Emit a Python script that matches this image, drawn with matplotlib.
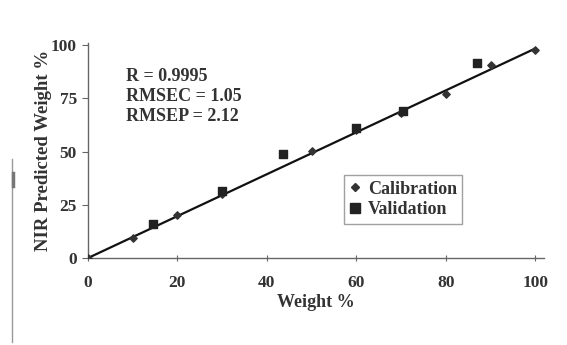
import matplotlib
matplotlib.use("Agg")
import matplotlib.pyplot as plt
from matplotlib.lines import Line2D
import numpy as np

# Data
cal_x = [0, 10, 20, 30, 50, 60, 70, 80, 90, 100]
cal_y = [0, 9.5, 20, 30, 50.5, 60, 68, 77, 90.5, 98]
val_x = [14.5, 30, 43.5, 60, 70.5, 87]
val_y = [16, 31.5, 49, 61, 69, 91.5]
fit_x = [0, 100]
fit_y = [0, 98.5]
x_ticks = [0, 20, 40, 60, 80, 100]
y_ticks = [0, 25, 50, 75, 100]
stats_lines = ["R = 0.9995", "RMSEC = 1.05", "RMSEP = 2.12"]

plt.rcParams['font.family'] = ['Liberation Serif', 'DejaVu Serif']

fig = plt.figure(figsize=(5.67, 3.45), dpi=100)
ax = fig.add_axes([0.155, 0.252, 0.805, 0.623])

ax.plot(fit_x, fit_y, color='#111111', lw=1.6, zorder=2)
ax.scatter(cal_x, cal_y, marker='D', s=14, color='#333333', zorder=3)
ax.scatter(val_x, val_y, marker='s', s=36, color='#222222', zorder=4)

ax.set_xlim(0, 102)
ax.set_ylim(0, 101)
ax.set_xticks(x_ticks)
ax.set_yticks(y_ticks)
for s in ['top', 'right']:
    ax.spines[s].set_visible(False)
for s in ['left', 'bottom']:
    ax.spines[s].set_color('#666666')
    ax.spines[s].set_linewidth(1.0)
ax.tick_params(axis='x', direction='inout', length=5, colors='#666666',
               labelcolor='#333333', labelsize=12.5, pad=10)
ax.tick_params(axis='y', direction='out', length=4, colors='#666666',
               labelcolor='#333333', labelsize=12.5, pad=4)
for lab in ax.get_xticklabels() + ax.get_yticklabels():
    lab.set_fontweight('bold')

ax.set_xlabel("Weight %", fontsize=13, fontweight='bold', color='#333333', labelpad=2)
ax.set_ylabel("NIR Predicted Weight %", fontsize=13.5, fontweight='bold',
              color='#333333', labelpad=-1)

ax.text(0.083, 0.885, "\n".join(stats_lines), transform=ax.transAxes,
        fontsize=13, fontweight='bold', color='#333333', va='top', ha='left',
        linespacing=1.22)

handles = [Line2D([], [], marker='D', ls='', color='#333333', markersize=4.5),
           Line2D([], [], marker='s', ls='', color='#222222', markersize=6.5)]
leg = ax.legend(handles, ["Calibration", "Validation"], loc='upper left',
                bbox_to_anchor=(0.562, 0.385), frameon=True, fancybox=False,
                handlelength=0.6, handletextpad=0.4, borderpad=0.3,
                labelspacing=0.2, borderaxespad=0,
                prop={'size': 13, 'weight': 'bold'})
leg.get_frame().set_edgecolor('#888888')
leg.get_frame().set_linewidth(1.0)
for t in leg.get_texts():
    t.set_color('#333333')

# scan edge line at far left
fig.add_artist(Line2D([0.022, 0.022], [0.01, 0.54], color='#999999', lw=1.0))
fig.add_artist(Line2D([0.023, 0.023], [0.46, 0.50], color='#777777', lw=2.5))

fig.savefig("out.png", dpi=100)
